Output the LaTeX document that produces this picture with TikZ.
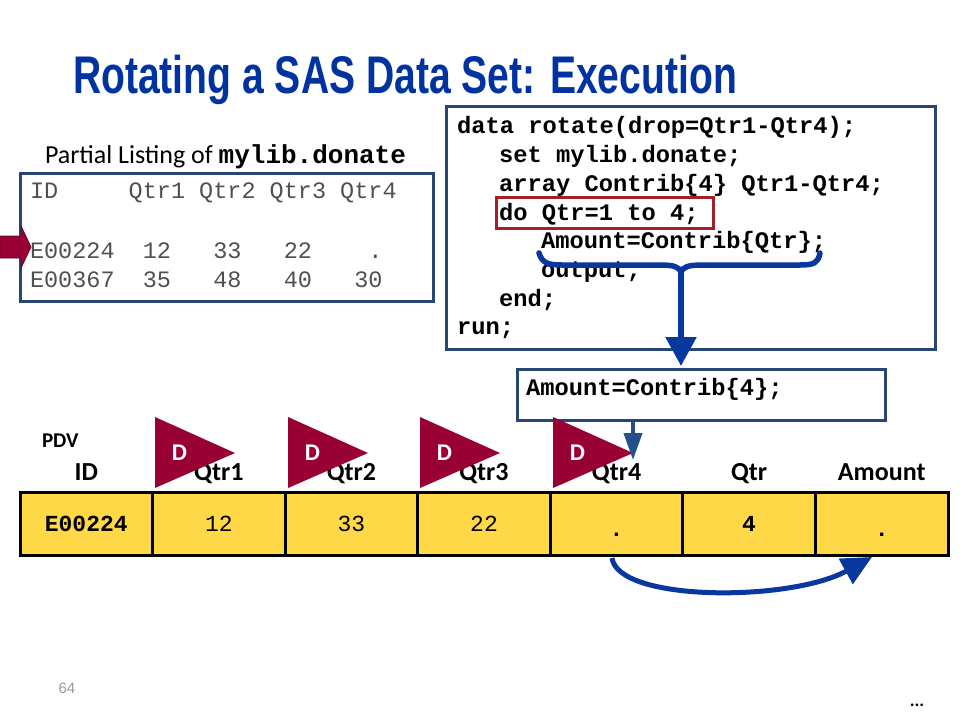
\documentclass[tikz,border=0pt]{standalone}
\usepackage{fontspec}
\usepackage{graphicx}
\setmainfont{Carlito}
\newfontfamily\codefont{Liberation Mono}
\newfontfamily\titlefont{Liberation Sans}
\usetikzlibrary{arrows.meta}
\definecolor{titleblue}{RGB}{0,51,160}
\definecolor{boxblue}{RGB}{40,70,115}
\definecolor{braceblue}{RGB}{8,55,160}
\definecolor{smallblue}{RGB}{35,80,140}
\definecolor{dred}{RGB}{153,0,51}
\definecolor{redbox}{RGB}{165,30,40}
\definecolor{gold}{RGB}{255,216,72}
\definecolor{listgray}{RGB}{80,80,80}
\newcommand{\fsz}[1]{\fontsize{#1}{#1}\selectfont}
\tikzset{
  txt/.style={inner sep=0pt, outer sep=0pt, anchor=base west},
  ctxt/.style={inner sep=0pt, outer sep=0pt, anchor=base},
  codeline/.style={txt, font=\codefont\bfseries\fsz{23.75}},
  listline/.style={txt, font=\codefont\fsz{23.5}, text=listgray},
  hdr/.style={ctxt, font=\bfseries\fsz{26}},
  val/.style={ctxt, font=\codefont\fsz{23}},
  cell/.style={draw=black, line width=3pt, fill=gold, minimum width=132.57pt, minimum height=63pt, inner sep=0pt, outer sep=0pt},
  frame/.style={draw=boxblue, line width=3pt},
  dtri/.style={fill=dred},
  dlab/.style={ctxt, font=\bfseries\fsz{24}, text=white},
}
\begin{document}
\begin{tikzpicture}[x=1pt,y=-1pt]
\useasboundingbox (0,0) rectangle (960,720);
% title
\node[txt] (title) at (73,93) {\resizebox{664pt}{\height}{\titlefont\bfseries\fsz{53}\color{titleblue}Rotating a SAS Data Set: Execution}};

% listing
\node[txt, font=\fsz{26}] (plabel) at (45,163) {Partial Listing of \codefont\bfseries\fsz{26}mylib.donate};
\draw[frame] (20,173) rectangle (433,301);
\node[listline] (lh) at (30,198) {ID\hphantom{00000}Qtr1\hphantom{0}Qtr2\hphantom{0}Qtr3\hphantom{0}Qtr4};
\node[listline] (l1) at (30,258) {E00224\hphantom{00}12\hphantom{000}33\hphantom{000}22\hphantom{0000}.};
\node[listline] (l2) at (30,287) {E00367\hphantom{00}35\hphantom{000}48\hphantom{000}40\hphantom{000}30};
\draw[fill=dred, draw=dred!70!black, line width=0.8pt] (0,236) -- (21,236) -- (21,226) -- (31,247) -- (21,268) -- (21,258) -- (0,258) -- cycle;

% code box
\draw[frame] (446,106) rectangle (935,349);
\node[codeline] (c1) at (457,133) {data rotate(drop=Qtr1-Qtr4);};
\node[codeline] (c2) at (499,162) {set mylib.donate;};
\node[codeline] (c3) at (499,191) {array Contrib\{4\} Qtr1-Qtr4;};
\node[codeline] (c4) at (499,220) {do Qtr=1 to 4;};
\node[codeline] (c5) at (541,248) {Amount=Contrib\{Qtr\};};
\node[codeline] (c6) at (541,277) {output;};
\node[codeline] (c7) at (499,306) {end;};
\node[codeline] (c8) at (457,334) {run;};
\draw[draw=redbox, line width=3pt] (496,197) rectangle (713,228);

% brace
\coordinate (bl) at (539,253);
\coordinate (bc) at (681,272);
\coordinate (br) at (820,253);
\draw[draw=braceblue, line width=5.5pt, line cap=round, line join=round]
  (bl) .. controls (542,263) and (548,265) .. (562,265) -- (660,265)
  .. controls (674,265) and (679,267) .. (bc)
  .. controls (683,267) and (688,265) .. (702,265) -- (800,265)
  .. controls (814,265) and (818,263) .. (br);

% amount box
\node[draw=boxblue, line width=3pt, minimum width=368pt, minimum height=51pt, inner sep=0pt, anchor=north west] (abox) at (516,368) {};
\node[codeline] (atext) at (526,395) {Amount=Contrib\{4\};};
\draw[draw=braceblue, line width=5.5pt, -{Triangle[length=29pt,width=30pt]}] (bc) -- (681,366);

% PDV labels
\node[txt, font=\bfseries\fsz{21}] (pdv) at (42,447) {PDV};
\foreach \nm/\lab [count=\i from 0] in {hID/ID,hQ1/Qtr1,hQ2/Qtr2,hQ3/Qtr3,hQ4/Qtr4,hQ/Qtr,hA/Amount}{
  \node[hdr] (\nm) at ({20+132.57*(\i+0.5)},480) {\lab};
}
% table cells
\foreach \nm [count=\i from 0] in {vID,vQ1,vQ2,vQ3,vQ4,vQ,vA}{
  \node[cell] (\nm) at ({20+132.57*(\i+0.5)},524) {};
}
\node[val, font=\codefont\bfseries\fsz{23}] (tID) at (vID.center |- 0,531) {E00224};
\node[val] (tQ1) at (vQ1.center |- 0,531) {12};
\node[val] (tQ2) at (vQ2.center |- 0,531) {33};
\node[val] (tQ3) at (vQ3.center |- 0,531) {22};
\node[val, font=\codefont\bfseries\fsz{23}] (tQ4) at (vQ4.center |- 0,536) {.};
\node[val, font=\codefont\bfseries\fsz{23}] (tQ) at (vQ.center |- 0,531) {4};
\node[val, font=\codefont\bfseries\fsz{23}] (tA) at (vA.center |- 0,536) {.};

% D triangles
\foreach \x/\nm in {155/d1,288/d2,420/d3,553/d4}{
  \fill[dtri] (\x,417) -- (\x,488) -- ({\x+80},453) -- cycle;
  \node[dlab] (\nm) at ({\x+24.5},460) {D};
}

% small arrow to Qtr4
\coordinate (qtip) at (633,460);
\draw[draw=smallblue, line width=4pt, -{Triangle[length=27pt,width=18pt]}] (abox.south -| qtip) -- (qtip);

% bottom curved arrow
\coordinate (cs) at (612,558);
\coordinate (ce) at (872,557);
\draw[draw=braceblue, line width=5pt, -{Triangle[length=30pt,width=28pt]}]
  (cs) .. controls (618,602) and (790,602) .. (ce);

% footer
\node[ctxt, font=\titlefont\fsz{15}, text=black!40] (pg) at (67,693) {64};
\node[ctxt, font=\bfseries\fsz{18}] (dots) at (917,706) {...};
\end{tikzpicture}
\end{document}
